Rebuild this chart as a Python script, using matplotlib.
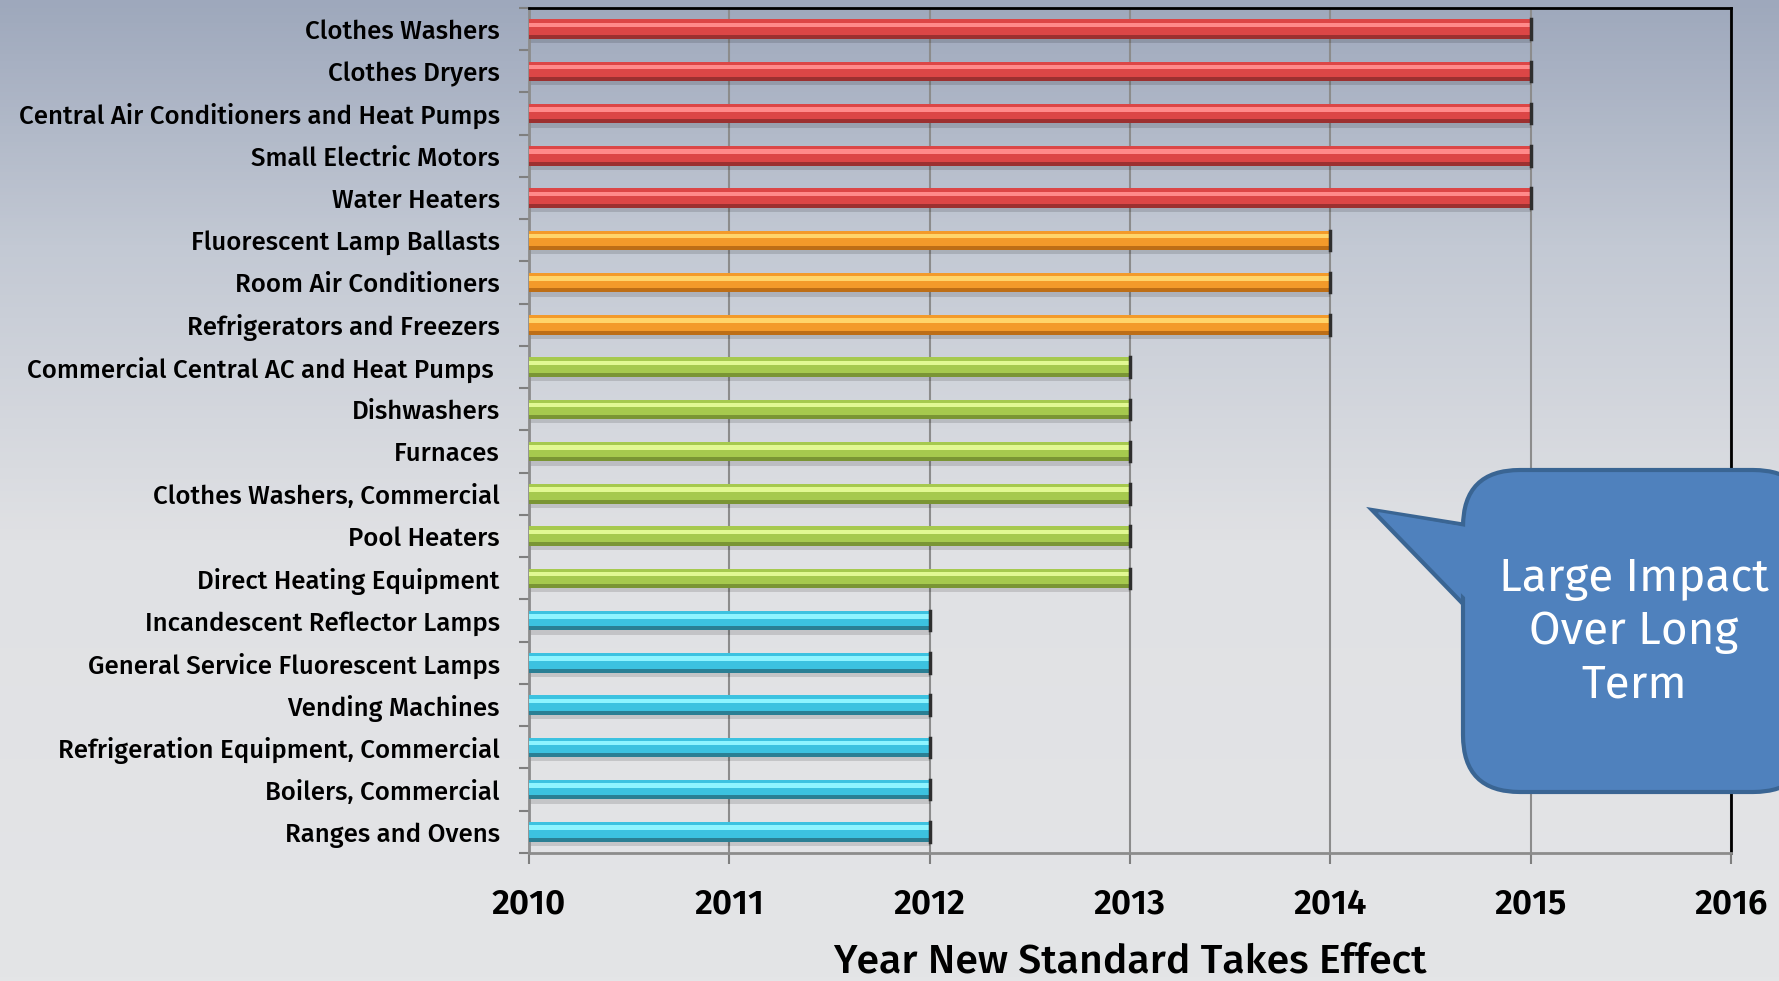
import matplotlib
matplotlib.use("Agg")
import matplotlib.pyplot as plt
import numpy as np
from matplotlib.colors import LinearSegmentedColormap
from matplotlib.patches import FancyBboxPatch, Polygon

# categories, top to bottom
categories = [
    "Clothes Washers", "Clothes Dryers", "Central Air Conditioners and Heat Pumps",
    "Small Electric Motors", "Water Heaters", "Fluorescent Lamp Ballasts",
    "Room Air Conditioners", "Refrigerators and Freezers",
    "Commercial Central AC and Heat Pumps ", "Dishwashers", "Furnaces",
    "Clothes Washers, Commercial", "Pool Heaters", "Direct Heating Equipment",
    "Incandescent Reflector Lamps", "General Service Fluorescent Lamps",
    "Vending Machines", "Refrigeration Equipment, Commercial",
    "Boilers, Commercial", "Ranges and Ovens",
]
years = [2015, 2015, 2015, 2015, 2015, 2014, 2014, 2014,
         2013, 2013, 2013, 2013, 2013, 2013,
         2012, 2012, 2012, 2012, 2012, 2012]
start_year = 2010
x_ticks = [2010, 2011, 2012, 2013, 2014, 2015, 2016]
callout_text = "Large Impact\nOver Long\nTerm"

# (main, highlight, dark) per effective year
PALETTE = {
    2015: ("#dc4646", "#ff8a8a", "#9c3030"),
    2014: ("#f39a2a", "#ffd46a", "#bd6e16"),
    2013: ("#a6c94e", "#e2f893", "#7a9534"),
    2012: ("#3cc2e0", "#8ef4ff", "#2a7f94"),
}

FONT = ["Fira Sans", "PT Sans", "Liberation Sans", "DejaVu Sans"]

W, H, DPI = 1779, 981, 100
fig = plt.figure(figsize=(W / DPI, H / DPI), dpi=DPI)

# background gradient over the whole figure
bg = fig.add_axes([0, 0, 1, 1], zorder=-10)
grad = LinearSegmentedColormap.from_list(
    "bg", [(0, "#e4e5e7"), (0.45, "#e0e1e4"), (0.75, "#c3c9d4"), (1, "#9ea8bc")])
bg.imshow(np.linspace(0, 1, 256).reshape(-1, 1), aspect="auto", cmap=grad,
          origin="lower", extent=(0, 1, 0, 1))
bg.set_axis_off()

x0, x1 = 529 / W, 1731 / W
y_top, y_bot = 8 / H, 853 / H
ax = fig.add_axes([x0, 1 - y_bot, x1 - x0, y_bot - y_top])
ax.set_facecolor("none")

n = len(categories)
pos = np.arange(n)
h = 0.46
for i, (cat, yr) in enumerate(zip(categories, years)):
    main, hi, dark = PALETTE[yr]
    w = yr - start_year
    top = i - h / 2
    # soft shadow below the bar
    ax.barh(i + 0.10, w, height=h, left=start_year, color="#000000",
            alpha=0.13, zorder=2)
    ax.barh(i, w, height=h, left=start_year, color=dark, zorder=3)
    ax.barh(top + h * 0.40, w, height=h * 0.80, left=start_year, color=main, zorder=4)
    ax.barh(top + h * 0.28, w, height=h * 0.24, left=start_year, color=hi, zorder=5)
    ax.barh(top + h * 0.05, w, height=h * 0.10, left=start_year, color=main, zorder=5)
    ax.plot([yr, yr], [i - h / 2, i + h / 2], color="#2e2e2e", lw=2.5, zorder=6)

ax.set_xlim(2010, 2016)
ax.set_ylim(n - 0.5, -0.5)
ax.set_xticks(x_ticks)
ax.set_xticklabels([str(t) for t in x_ticks], family=FONT, fontsize=25,
                   fontweight="semibold")
ax.set_yticks(pos)
ax.set_yticklabels(categories, family=FONT, fontsize=18.6, fontweight="medium")
ax.set_yticks(np.arange(-0.5, n, 1), minor=True)
ax.tick_params(axis="y", which="major", length=0, pad=21)
ax.tick_params(axis="y", which="minor", length=7, color="#7f7f7f", width=1.5)
ax.tick_params(axis="x", length=8, color="#7f7f7f", width=1.5, pad=17)
ax.xaxis.grid(True, color="#8c8c8c", lw=1.5, zorder=1)
ax.set_axisbelow(True)
for side in ("left", "bottom"):
    ax.spines[side].set_color("#8c8c8c")
    ax.spines[side].set_linewidth(2)
for side in ("top", "right"):
    ax.spines[side].set_color("black")
    ax.spines[side].set_linewidth(2)

# x axis title sits low, as in the slide
fig.text((x0 + x1) / 2, 1 - 973 / H, "Year New Standard Takes Effect",
         family=FONT, fontsize=29.5, fontweight="medium", ha="center",
         va="baseline")

# callout bubble (figure pixel coordinates)
def fx(px):
    return px / W

def fy(py):
    return 1 - py / H

bubble_col, bubble_edge = "#4f81bd", "#3a6593"
tail = Polygon([(fx(1372), fy(510)), (fx(1466), fy(525)), (fx(1466), fy(607))],
               closed=True, transform=fig.transFigure, facecolor=bubble_col,
               edgecolor=bubble_edge, lw=3, zorder=20)
box = FancyBboxPatch((fx(1463), fy(792)), fx(1810) - fx(1463), fy(470) - fy(792),
                     boxstyle="round,pad=0,rounding_size=0.032",
                     transform=fig.transFigure, facecolor=bubble_col,
                     edgecolor=bubble_edge, lw=3, zorder=21,
                     mutation_aspect=W / H)
cover = Polygon([(fx(1378), fy(512)), (fx(1472), fy(528)), (fx(1472), fy(604))],
                closed=True, transform=fig.transFigure, facecolor=bubble_col,
                edgecolor="none", zorder=22)
for p in (tail, box, cover):
    fig.patches.append(p)
fig.text(fx(1634), fy(632), callout_text, family=FONT,
         fontsize=33, color="white", ha="center", va="center",
         linespacing=1.25, zorder=30)

fig.savefig("out.png", dpi=DPI)
